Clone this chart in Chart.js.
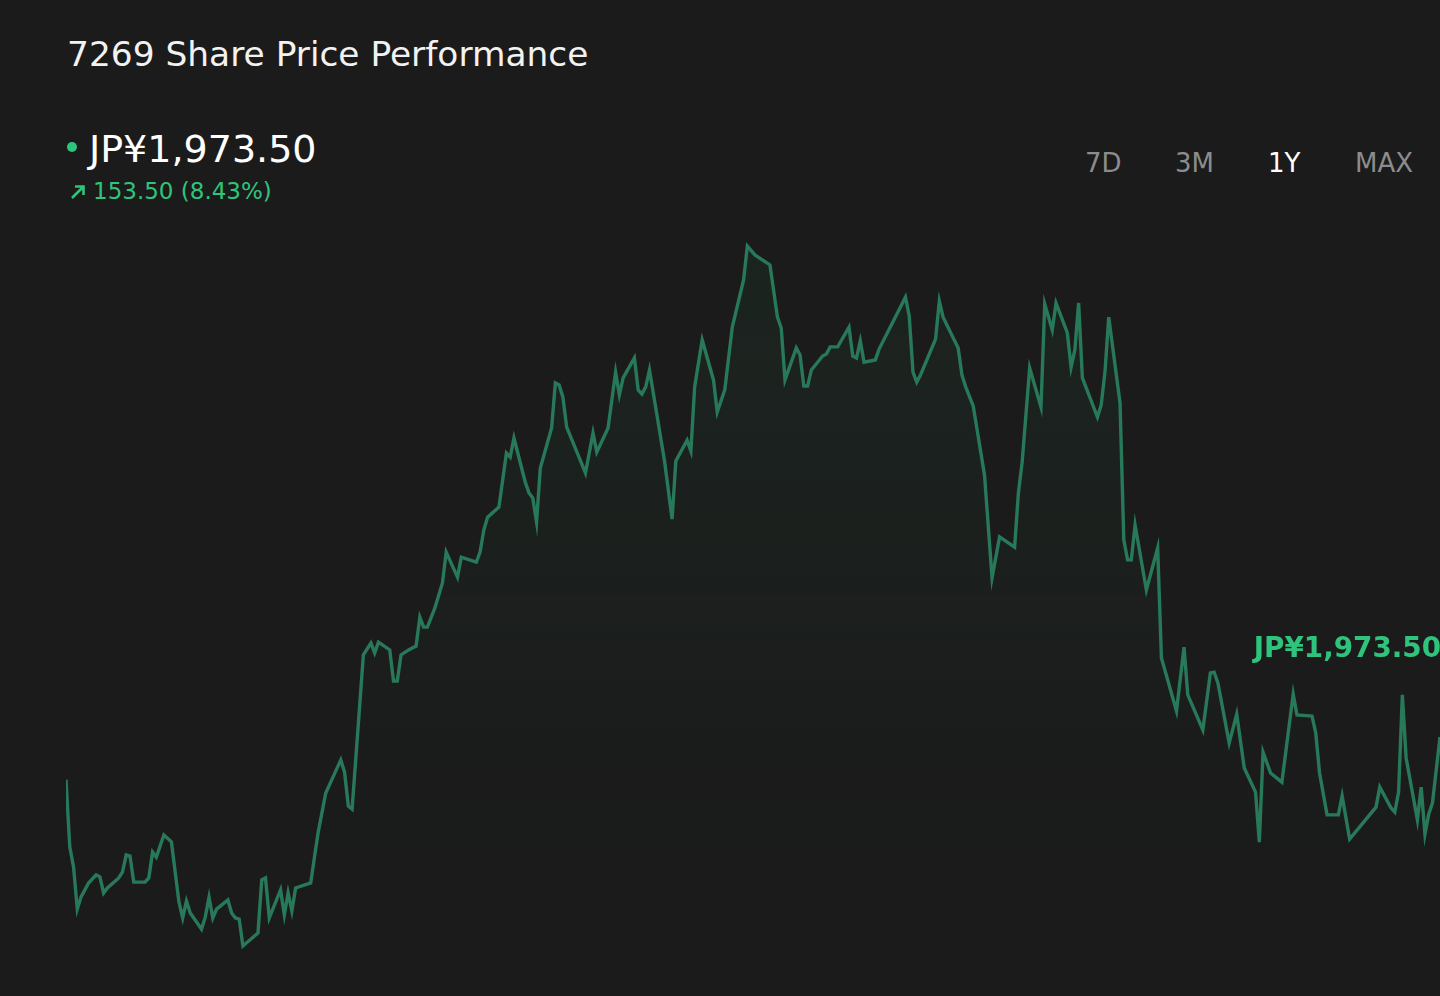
<!DOCTYPE html>
<html>
<head>
<meta charset="utf-8">
<script src="https://cdn.jsdelivr.net/npm/chart.js@4/dist/chart.umd.min.js"></script>
<style>
  html, body { margin: 0; padding: 0; background: #1b1b1b; width: 1440px; height: 996px; overflow: hidden; font-family: "DejaVu Sans", sans-serif; }
  .txt { position: absolute; white-space: nowrap; line-height: 1; }
  #title { left: 67px; top: 37px; font-size: 34.4px; color: #f2f2f2; }
  #dot { position: absolute; left: 67px; top: 142px; width: 10px; height: 10px; border-radius: 50%; background: #2fc47c; }
  #price { left: 89px; top: 130px; font-size: 38px; color: #ffffff; }
  #arrow { position: absolute; left: 70px; top: 184px; width: 16px; height: 16px; }
  #change { left: 93px; top: 180px; font-size: 23px; color: #2fc47c; }
  .btn { top: 150px; font-size: 26px; color: #8c8c8c; }
  .btn.on { color: #ffffff; }
  #wrap { position: absolute; left: 66px; top: 115px; width: 1374px; height: 845px; }
</style>
</head>
<body>
<div id="title" class="txt">7269 Share Price Performance</div>
<div id="dot"></div>
<div id="price" class="txt">JP¥1,973.50</div>
<svg id="arrow" viewBox="0 0 16 16"><path d="M2 14 L13 3 M5 2.5 H13.5 V11" stroke="#2fc47c" stroke-width="2.6" fill="none"/></svg>
<div id="change" class="txt">153.50 (8.43%)</div>
<div class="txt btn" style="left:1085px">7D</div>
<div class="txt btn" style="left:1175px">3M</div>
<div class="txt btn on" style="left:1268px">1Y</div>
<div class="txt btn" style="left:1355px">MAX</div>
<div id="wrap"><canvas id="chart"></canvas></div>
<script>
// trading day index within the year (0 = first day shown)
var days = [
  0, 1, 2, 3, 4, 6, 8, 9, 10, 11, 14, 15, 16, 17, 18, 21, 22, 23, 24, 26,
  28, 30, 31, 32, 33, 36, 37, 38, 39, 40, 43, 44, 45, 46, 47, 51, 52, 53, 54, 57,
  58, 59, 60, 61, 65, 66, 67, 69, 73, 74, 75, 76, 79, 81, 82, 83, 86, 87, 88, 89,
  91, 93, 94, 95, 96, 98, 100, 101, 104, 105, 109, 110, 111, 112, 115, 117, 118, 119, 122, 123,
  124, 125, 126, 129, 130, 131, 132, 133, 138, 140, 141, 144, 146, 147, 148, 151, 152, 153, 154, 155,
  159, 161, 162, 165, 166, 167, 169, 172, 173, 175, 177, 180, 181, 183, 187, 189, 190, 191, 194, 195,
  196, 197, 198, 201, 202, 203, 205, 208, 209, 210, 211, 212, 215, 216, 223, 224, 225, 226, 227, 231,
  232, 233, 237, 238, 239, 241, 244, 246, 248, 252, 253, 254, 256, 259, 260, 262, 263, 266, 267, 268,
  269, 270, 274, 275, 276, 277, 280, 281, 282, 283, 284, 287, 290, 291, 295, 297, 298, 302, 304, 305,
  306, 309, 311, 313, 316, 317, 318, 320, 323, 326, 327, 331, 332, 333, 335, 338, 339, 341, 348, 349,
  352, 353, 354, 355, 356, 359, 360, 361, 362, 363, 365
];
// closing price, JP¥
var prices = [
  1820, 1578, 1506, 1354, 1398, 1448, 1477, 1470, 1412, 1430, 1466, 1487, 1549, 1545, 1451, 1451, 1466, 1559, 1541, 1621,
  1596, 1380, 1322, 1383, 1340, 1282, 1325, 1397, 1322, 1354, 1387, 1340, 1322, 1318, 1221, 1268, 1459, 1466, 1322, 1423,
  1333, 1412, 1347, 1430, 1448, 1541, 1631, 1772, 1891, 1847, 1725, 1714, 2269, 2312, 2276, 2315, 2287, 2175, 2175, 2269,
  2287, 2301, 2405, 2369, 2369, 2438, 2528, 2639, 2549, 2621, 2603, 2639, 2719, 2765, 2801, 2996, 2981, 3050, 2891, 2852,
  2834, 2747, 2942, 3086, 3248, 3241, 3197, 3089, 2924, 3068, 2999, 3086, 3287, 3205, 3266, 3338, 3223, 3208, 3234, 3295,
  2967, 2758, 2967, 3042, 3003, 3234, 3403, 3259, 3143, 3223, 3449, 3619, 3741, 3709, 3673, 3485, 3446, 3259, 3374, 3349,
  3237, 3237, 3295, 3345, 3352, 3378, 3378, 3449, 3345, 3338, 3399, 3323, 3331, 3370, 3557, 3489, 3287, 3251, 3277, 3406,
  3543, 3485, 3374, 3277, 3234, 3165, 2917, 2546, 2694, 2657, 2852, 2963, 3302, 3161, 3532, 3439, 3536, 3428, 3305, 3367,
  3536, 3266, 3125, 3169, 3288, 3485, 3176, 2683, 2611, 2611, 2737, 2503, 2654, 2258, 2067, 2297, 2125, 1999, 2204, 2207,
  2168, 1952, 2056, 1862, 1775, 1595, 1919, 1844, 1811, 2128, 2053, 2049, 1988, 1844, 1693, 1693, 1761, 1606, 1721, 1793,
  1718, 1703, 1775, 2125, 1898, 1675, 1793, 1624, 1696, 1736, 1973.5
];
var lastLabel = 'JP¥1,973.50';

var points = days.map(function (d, i) { return { x: d, y: prices[i] }; });

var lastPriceLabel = {
  id: 'lastPriceLabel',
  afterDatasetsDraw: function (chart) {
    var ctx = chart.ctx;
    var area = chart.chartArea;
    var y = chart.scales.y.getPixelForValue(prices[prices.length - 1]);
    ctx.save();
    ctx.font = 'bold 27.8px "DejaVu Sans"';
    ctx.fillStyle = '#2fc47c';
    ctx.textAlign = 'right';
    ctx.textBaseline = 'alphabetic';
    ctx.fillText(lastLabel, area.right + 1, y - 80);
    ctx.restore();
  }
};

var ctx = document.getElementById('chart').getContext('2d');
var myChart = new Chart(ctx, {
  type: 'line',
  data: {
    datasets: [{
      label: '7269',
      data: points,
      borderColor: '#28795a',
      borderWidth: 3.4,
      pointRadius: 0,
      tension: 0,
      fill: 'start',
      backgroundColor: function (context) {
        var area = context.chart.chartArea;
        if (!area) return 'rgba(0,0,0,0)';
        var g = context.chart.ctx.createLinearGradient(0, area.top, 0, area.top + 760);
        g.addColorStop(0, 'rgba(40,140,90,0.10)');
        g.addColorStop(1, 'rgba(40,140,90,0)');
        return g;
      }
    }]
  },
  options: {
    responsive: true,
    maintainAspectRatio: false,
    animation: false,
    layout: { padding: 0 },
    plugins: { legend: { display: false }, tooltip: { enabled: false } },
    scales: {
      x: { type: 'linear', min: 0, max: 365, display: false },
      y: { min: 1170.7, max: 4212.7, display: false }
    }
  },
  plugins: [lastPriceLabel]
});
</script>
</body>
</html>
